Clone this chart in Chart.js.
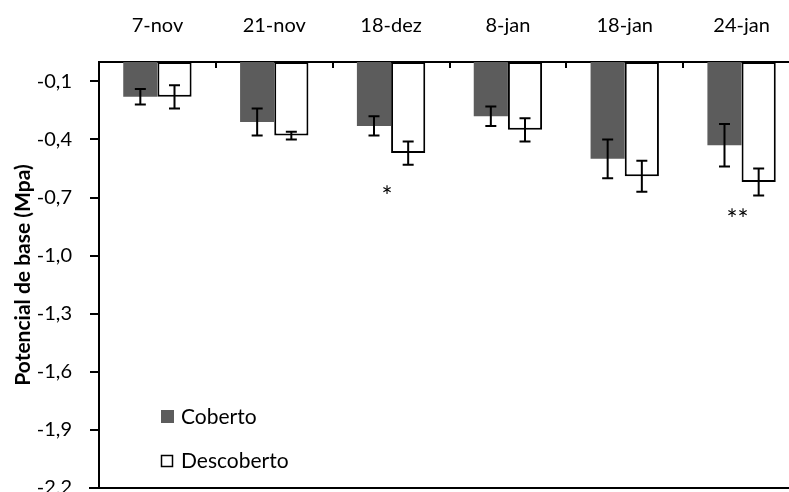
<!DOCTYPE html>
<html>
<head>
<meta charset="utf-8">
<script src="https://cdn.jsdelivr.net/npm/chart.js@4"></script>
<style>
  html, body { margin: 0; padding: 0; overflow: hidden; background: #fff; }
  #wrap { width: 820px; height: 520px; }
</style>
</head>
<body>
<div id="wrap"><canvas id="grafico" width="820" height="520"></canvas></div>
<script>
// datos
const datas = ["7-nov", "21-nov", "18-dez", "8-jan", "18-jan", "24-jan"];
const coberto = [-0.18, -0.31, -0.33, -0.28, -0.50, -0.43];
const cobertoErro = [0.04, 0.07, 0.05, 0.05, 0.10, 0.11];
const descoberto = [-0.18, -0.38, -0.47, -0.35, -0.59, -0.62];
const descobertoErro = [0.06, 0.02, 0.06, 0.06, 0.08, 0.07];
const significancia = ["", "", "*", "", "", "**"];
const yTicks = [-2.2, -1.9, -1.6, -1.3, -1.0, -0.7, -0.4, -0.1];

const fonte = "Lato, 'Open Sans', sans-serif";
const cinza = "#5c5c5c";

// barras de erro, marcas do eixo x, linha inferior, legenda e asteriscos
const extras = {
  id: "extras",
  afterDatasetsDraw(chart) {
    const ctx = chart.ctx;
    const y = chart.scales.y;
    const x = chart.scales.x;
    const area = chart.chartArea;
    const erros = [cobertoErro, descobertoErro];
    ctx.save();
    ctx.strokeStyle = "#000";
    ctx.lineWidth = 2;
    [0, 1].forEach(function (d) {
      const meta = chart.getDatasetMeta(d);
      const valores = chart.data.datasets[d].data;
      meta.data.forEach(function (bar, i) {
        const v = valores[i];
        const e = erros[d][i];
        const y1 = y.getPixelForValue(v + e);
        const y2 = y.getPixelForValue(v - e);
        ctx.beginPath();
        ctx.moveTo(bar.x, y1); ctx.lineTo(bar.x, y2);
        ctx.moveTo(bar.x - 5.5, y1); ctx.lineTo(bar.x + 5.5, y1);
        ctx.moveTo(bar.x - 5.5, y2); ctx.lineTo(bar.x + 5.5, y2);
        ctx.stroke();
      });
    });

    // marcas do eixo x (para dentro)
    const passo = (area.right - area.left) / datas.length;
    ctx.lineWidth = 2;
    ctx.beginPath();
    for (let i = 1; i < datas.length; i++) {
      const px = Math.round(area.left + passo * i);
      ctx.moveTo(px, area.top); ctx.lineTo(px, area.top + 6);
    }
    ctx.stroke();

    // linha inferior
    ctx.beginPath();
    ctx.moveTo(area.left - 10, area.bottom);
    ctx.lineTo(area.right, area.bottom);
    ctx.stroke();

    // asteriscos
    ctx.fillStyle = "#000";
    ctx.font = "26px " + fonte;
    ctx.textAlign = "center";
    ctx.textBaseline = "alphabetic";
    significancia.forEach(function (s, i) {
      if (!s) return;
      const cx = x.getPixelForValue(i) - 4;
      const base = Math.max(
        y.getPixelForValue(descoberto[i] - descobertoErro[i]),
        y.getPixelForValue(coberto[i] - cobertoErro[i])
      );
      ctx.fillText(s, cx, base + (s.length > 1 ? 33 : 41));
    });

    // legenda
    ctx.textAlign = "left";
    ctx.textBaseline = "middle";
    ctx.font = "21px " + fonte;
    ctx.fillStyle = cinza;
    ctx.fillRect(161, 410, 13, 13);
    ctx.fillStyle = "#fff";
    ctx.fillRect(161, 455, 12, 12);
    ctx.lineWidth = 1.5;
    ctx.strokeStyle = "#000";
    ctx.strokeRect(161.5, 455.5, 11, 11);
    ctx.fillStyle = "#000";
    ctx.fillText("Coberto", 181, 417);
    ctx.fillText("Descoberto", 181, 461);
    ctx.restore();
  }
};

new Chart(document.getElementById("grafico"), {
  type: "bar",
  data: {
    labels: datas,
    datasets: [
      {
        label: "Coberto",
        data: coberto,
        backgroundColor: cinza,
        borderWidth: 0,
        categoryPercentage: 0.585,
        barPercentage: 1.0,
      },
      {
        label: "Descoberto",
        data: descoberto,
        backgroundColor: "#fff",
        borderColor: "#000",
        borderWidth: 2,
        borderSkipped: false,
        categoryPercentage: 0.585,
        barPercentage: 1.0,
      },
    ],
  },
  options: {
    responsive: false,
    animation: false,
    layout: { padding: { left: 0, top: 0, right: 20, bottom: 32 } },
    plugins: {
      legend: { display: false },
      tooltip: { enabled: false },
    },
    scales: {
      x: {
        position: "top",
        grid: { display: false, drawTicks: false },
        border: { display: true, color: "#000", width: 2 },
        ticks: { color: "#000", font: { family: fonte, size: 20 }, padding: 24, maxRotation: 0 },
        afterFit(scale) { scale.height = 62; },
      },
      y: {
        min: -2.2,
        max: 0,
        afterBuildTicks(scale) {
          scale.ticks = yTicks.map(function (v) { return { value: v }; });
        },
        grid: { drawOnChartArea: false, drawTicks: true, tickLength: 9, color: "#000", lineWidth: 2 },
        border: { display: true, color: "#000", width: 2 },
        ticks: {
          color: "#000",
          font: { family: fonte, size: 20 },
          padding: 18,
          callback: function (v) { return v.toFixed(1).replace(".", ","); },
        },
        title: {
          display: true,
          text: "Potencial de base (Mpa)",
          color: "#000",
          font: { family: fonte, size: 21, weight: "bold" },
          padding: { top: 11, bottom: 0 },
        },
        afterFit(scale) {
          scale.width = 99;
          scale.paddingTop = 0;
          scale.paddingBottom = 0;
        },
      },
    },
  },
  plugins: [extras],
});
</script>
</body>
</html>
